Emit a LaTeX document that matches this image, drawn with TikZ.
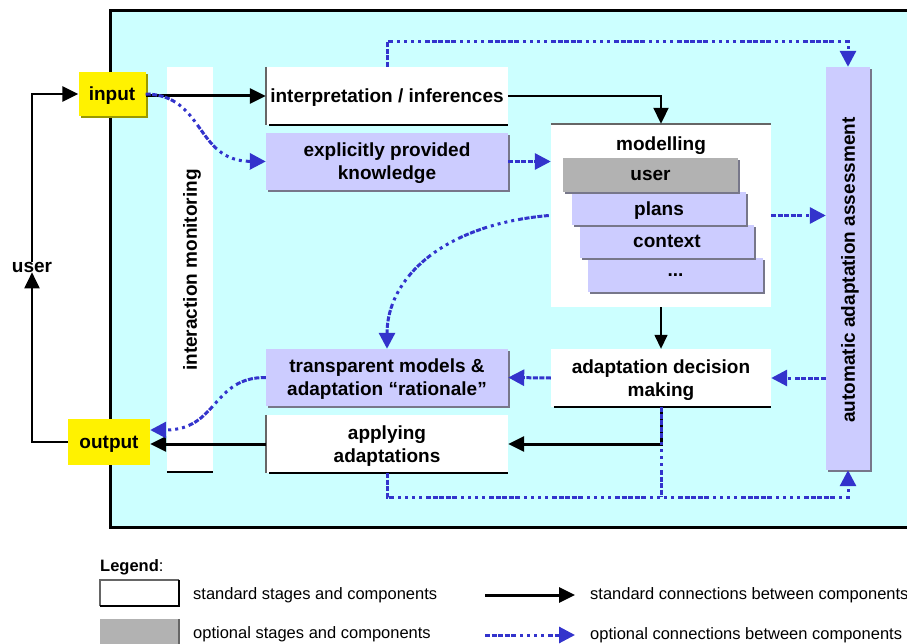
\documentclass[tikz,border=0pt]{standalone}
\usepackage{fontspec}
\setmainfont{Liberation Sans}
\usetikzlibrary{arrows.meta,calc,shadows}
\definecolor{cyanbg}{HTML}{CCFFFF}
\definecolor{lav}{HTML}{CCCCFF}
\definecolor{optblue}{HTML}{3333CC}
\definecolor{optgray}{HTML}{B2B2B2}
\definecolor{shad}{HTML}{77778A}
\definecolor{olive}{HTML}{999900}
\definecolor{edgegray}{HTML}{666666}
\begin{document}
\begin{tikzpicture}[x=1pt,y=-1pt,
  every node/.style={font=\fontsize{19}{23}\selectfont\bfseries, align=center, inner sep=0pt, text depth=0pt},
  whitebox/.style={fill=white},
  lavbox/.style={fill=lav, drop shadow={shadow xshift=2pt, shadow yshift=-2pt, fill=shad, opacity=1}},
  graybox/.style={fill=optgray, drop shadow={shadow xshift=2pt, shadow yshift=-2pt, fill=shad, opacity=1}},
  yellowbox/.style={fill=yellow},
  stdarrow/.style={line width=3pt, -{Triangle[length=16pt,width=15pt]}},
  thinarrow/.style={line width=1.5pt, -{Triangle[length=14pt,width=13pt]}},
  optline/.style={optblue, line width=3pt,
    dash pattern=on 5pt off 1.5pt on 5pt off 1.5pt on 5pt off 1.5pt on 5pt off 1.5pt on 5pt off 4pt on 3pt off 4pt on 3pt off 4pt on 3pt off 4pt on 3pt off 4pt},
  optarrow/.style={optline, -{Triangle[length=16pt,width=16pt]}},
  legtext/.style={font=\fontsize{16.5}{19}\selectfont, anchor=west}
]
\useasboundingbox (0,0) rectangle (907,644);
% background frame
\fill[cyanbg] (110,11) rectangle (920,527);
\draw[line width=3pt] (920,11) -- (110,11) -- (110,527) -- (920,527);

% interaction monitoring column
\node[whitebox, minimum width=46pt, minimum height=405pt] (intmon) at (190,269.5) {};
\node[rotate=90] (intmontext) at (190,270) {interaction monitoring};
\draw[line width=1.5pt] (intmon.south west) -- (intmon.south east);

% automatic adaptation assessment
\node[lavbox, minimum width=44pt, minimum height=403pt] (auto) at (848,268.5) {};
\node[rotate=90] (autotext) at (848,270) {automatic adaptation assessment};

% input / output
\node[yellowbox, drop shadow={shadow xshift=2.5pt, shadow yshift=-2.5pt, fill=olive, opacity=1},
      minimum width=67pt, minimum height=44pt] (input) at (112,94) {input};
\node[yellowbox, minimum width=82pt, minimum height=46pt] (output) at (109,442) {output};
\node (user) at (32,267) {user};

% interpretation
\node[whitebox, minimum width=242pt, minimum height=58pt] (interp) at (387,96) {interpretation / inferences};
\draw[edgegray, line width=1.5pt] (interp.north west) -- (interp.south west);
\draw[line width=1.5pt] ([xshift=3pt]interp.south west) -- (interp.south east);

% explicitly provided knowledge
\node[lavbox, minimum width=242pt, minimum height=57pt] (explicit) at (387,161.5) {explicitly provided\\knowledge};

% modelling
\node[whitebox, minimum width=220pt, minimum height=183pt] (modelling) at (661,215.5) {};
\draw[edgegray, line width=1.5pt] (modelling.north west) -- (modelling.north east);
\node (modtitle) at (661,144) {modelling};
\node[lavbox, minimum width=175pt, minimum height=34pt] (mdots) at (675.5,275) {...};
\node[lavbox, minimum width=174pt, minimum height=33pt] (mcontext) at (667,241.5) {context};
\node[lavbox, minimum width=174pt, minimum height=33pt] (mplans) at (659,208.5) {plans};
\node[graybox, minimum width=175pt, minimum height=34pt] (muser) at (650.5,175) {user};

% adaptation decision making
\node[whitebox, minimum width=220pt, minimum height=58pt] (adapt) at (661,378) {adaptation decision\\making};
\draw[line width=1.5pt] ([xshift=3pt]adapt.south west) -- (adapt.south east);

% transparent models
\node[lavbox, minimum width=242pt, minimum height=57pt] (transp) at (387,377.5) {transparent models \&\\adaptation “rationale”};

% applying adaptations
\node[whitebox, minimum width=242pt, minimum height=58pt] (applying) at (387,444) {applying\\adaptations};
\draw[edgegray, line width=1.5pt] (applying.north west) -- (applying.south west);
\draw[line width=1.5pt] ([xshift=3pt]applying.south west) -- (applying.south east);

% helper coordinates
\coordinate (topy) at (0,42);
\coordinate (boty) at (0,497);

% standard connectors
\draw[stdarrow, line width=2.5pt] (user.north) |- (input.west);
\draw[stdarrow, line width=2pt] (output.west) -| (user.south);
\draw[stdarrow] (input.east |- interp.west) -- (interp.west);
\draw[stdarrow, line width=2pt] (interp.east) -| (modelling.north);
\draw[thinarrow] (modelling.south) -- (adapt.north);
\draw[stdarrow] (adapt.south) |- (applying.east);
\draw[stdarrow] (applying.west) -- (applying.west -| output.east);

% optional connectors
\draw[optarrow] (input.east) .. controls (205,95) and (195,161) .. (explicit.west);
\draw[optarrow] (explicit.east) -- (explicit.east -| modelling.west);
\draw[optarrow] (interp.north) -- (interp.north |- topy) -| (auto.north);
\draw[optarrow] (modelling.east) -- (modelling.east -| auto.west);
\draw[optarrow] (auto.west |- adapt.east) -- (adapt.east);
\draw[optarrow] (adapt.west) -- (transp.east);
\draw[optarrow] ([xshift=-2pt]modelling.west) .. controls (440,225) and (387,280) .. (transp.north);
\draw[optarrow] (transp.west) .. controls (212,377) and (218,430) .. ([yshift=12pt]output.east);
\draw[optarrow] (applying.south) -- (applying.south |- boty) -| (auto.south);
\draw[optline] (adapt.south) -- (adapt.south |- boty);

% legend
\node[anchor=west, font=\fontsize{16.5}{19}\selectfont] (legtitle) at (100,566) {\textbf{Legend}:};
\node[fill=white, minimum width=79pt, minimum height=26pt] (legstdbox) at (139.5,593) {};
\draw[edgegray, line width=1.5pt] (legstdbox.south west) -- (legstdbox.north west) -- (legstdbox.north east);
\draw[line width=1.5pt] (legstdbox.north east) -- (legstdbox.south east) -- (legstdbox.south west);
\node[legtext] (legstd) at (193,594) {standard stages and components};
\node[fill=optgray, minimum width=79pt, minimum height=30pt] (legoptbox) at (139.5,634) {};
\draw[edgegray, line width=1.5pt] (legoptbox.north east) -- (legoptbox.south east);
\node[legtext] (legopt) at (193,633) {optional stages and components};
\coordinate (la1) at (485,595);
\coordinate (la2) at (575,595);
\coordinate (lb1) at (485,635);
\coordinate (lb2) at (575,635);
\draw[stdarrow] (la1) -- (la2);
\draw[optarrow] (lb1) -- (lb2);
\node[legtext] (legstdc) at (590,594) {standard connections between components};
\node[legtext] (legoptc) at (590,634) {optional connections between components};
\end{tikzpicture}
\end{document}
